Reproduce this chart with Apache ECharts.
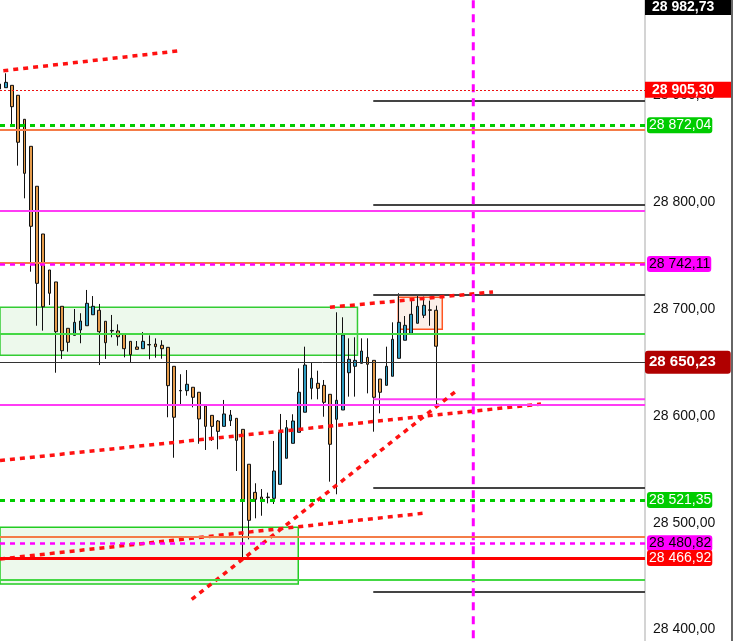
<!DOCTYPE html>
<html><head><meta charset="utf-8">
<script src="https://cdn.jsdelivr.net/npm/echarts@6/dist/echarts.min.js"></script>
<style>html,body{margin:0;padding:0;background:#fff;overflow:hidden}#c{width:733px;height:641px}</style>
</head><body><div id="c"></div>
<script>
// ---- candle values (price) ----
const opens  = [28906.1,28907.3,28909.5,28900.2,28877.7,28852.4,28815.0,28770.3,28736.6,28725.4,
                28702.6,28682.0,28675.4,28680.4,28684.4,28694.7,28698.9,28688.6,28680.0,28679.5,
                28676.4,28669.8,28664.5,28662.9,28666.8,28667.3,28666.1,28664.2,28646.4,28623.8,
                28623.6,28626.8,28622.1,28609.2,28600.5,28595.2,28590.2,28595.5,28597.7,28587.4,
                28554.7,28528.4,28524.0,28524.0,28522.8,28535.9,28560.3,28574.3,28584.6,28603.4,
                28625.8,28630.5,28628.6,28620.2,28596.8,28605.5,28640.4,28646.4,28649.2,28654.8,
                28652.0,28634.5,28628.6,28637.1,28653.9,28670.8,28677.3,28686.7,28694.2,28699.3,
                28698.9];
const closes = [28910.7,28912.3,28889.5,28856.2,28827.1,28777.5,28724.1,28702.2,28714.8,28678.8,
                28661.0,28668.9,28687.6,28688.8,28705.4,28702.6,28678.8,28668.5,28679.5,28674.1,
                28662.9,28657.3,28662.3,28669.8,28666.4,28664.8,28662.9,28628.3,28598.7,28623.4,
                28629.6,28617.4,28597.1,28590.2,28590.2,28585.5,28601.8,28600.8,28577.1,28520.9,
                28502.2,28521.9,28521.9,28523.5,28548.4,28584.9,28588.9,28595.2,28622.1,28647.6,
                28635.2,28625.8,28612.7,28573.4,28614.6,28675.7,28653.0,28652.0,28660.7,28648.3,
                28617.4,28622.1,28646.4,28671.7,28687.6,28684.8,28695.1,28702.6,28703.5,28698.9,
                28665.2];
const lows   = [28905.1,28907.3,28871.7,28834.3,28803.7,28735.0,28684.4,28679.8,28703.8,28640.4,
                28653.3,28660.1,28675.4,28668.0,28684.4,28694.7,28647.6,28653.3,28673.6,28665.7,
                28654.8,28650.2,28662.3,28662.9,28653.0,28654.5,28653.5,28598.7,28560.8,28611.1,
                28618.9,28608.0,28573.9,28568.1,28576.5,28568.7,28590.2,28590.5,28548.4,28466.6,
                28484.4,28504.1,28506.5,28518.1,28517.5,28535.9,28560.3,28574.3,28584.6,28603.4,
                28615.5,28615.5,28599.2,28538.4,28526.6,28605.5,28618.0,28618.0,28649.2,28621.1,
                28585.2,28602.4,28628.6,28637.1,28653.9,28670.8,28677.3,28686.7,28691.6,28684.4,
                28609.5];
const highs  = [28912.6,28920.8,28909.5,28900.4,28877.9,28852.4,28815.0,28770.3,28736.6,28725.4,
                28702.6,28682.0,28700.1,28696.1,28717.9,28712.2,28704.8,28688.6,28694.5,28685.7,
                28676.4,28669.8,28670.1,28678.5,28675.4,28672.6,28670.8,28664.2,28646.4,28639.0,
                28642.9,28626.8,28622.1,28609.2,28600.5,28596.1,28614.9,28605.5,28597.7,28587.4,
                28554.7,28536.9,28531.5,28528.1,28576.5,28601.8,28596.1,28601.5,28644.5,28664.8,
                28649.8,28642.3,28633.6,28620.2,28697.0,28692.3,28672.6,28673.6,28672.6,28672.6,
                28652.0,28634.5,28664.8,28687.6,28714.8,28693.5,28707.9,28713.8,28711.6,28707.9,
                28703.2];

// ---- price levels ----
const highPrice = 28982.73;
const redDotLevel = 28905.30;
const greenDashLevels = [28872.04, 28521.35];
const magentaDashLevels = [28742.11, 28480.82];
const lastPrice = 28650.23;
const redSolidLevel = 28466.92;
const orangeLevels = [28868.0, 28743.8, 28486.9];
const magentaLevels = [28792.1, 28610.5];
const greenLevels = [28677.0, 28446.6];
const shortLevels = [28894.8, 28797.5, 28713.2, 28532.5, 28435.1];
const shortMagentaLevel = 28615.5;
const shortStart = 59.9;
const verticalAt = 75.93;

// ---- zones [x-index, price] ----
const zone1 = [[0.08, 28701.7], [57.37, 28656.7]];
const zone2 = [[0.08, 28495.7], [47.88, 28442.6]];
const boxZone = [[63.91, 28711.0], [70.96, 28681.1]];

// ---- trend lines [x-index, price] ----
const trendTop = [[0.61, 28923.2], [28.61, 28941.7]];
const trendMid = [[0.08, 28558.1], [86.78, 28611.1]];
const trendUpper = [[52.96, 28701.7], [79.09, 28716.0]];
const trendLow = [[0.08, 28466.0], [67.87, 28508.8]];
const trendSteep = [[30.80, 28428.2], [73.0, 28622.4]];

const X_MIN = 0.08, X_MAX = 103.45;
const Y_MIN = 28300, Y_MAX = 29000;

function fmt(v){
  const s = Number(v).toFixed(2);
  const p = s.split('.');
  return p[0].replace(/\B(?=(\d{3})+(?!\d))/g, ' ') + ',' + p[1];
}

const BLUE = '#2e9cc2', ORANGE = '#e59b4a';
const FONT = 'Liberation Sans, Arial, sans-serif';

const candleData = opens.map((o, i) => [i, o, closes[i], lows[i], highs[i]]);

function squareTag(bg, size, pad, radius){
  return {show:true, position:'end', distance:0, formatter:p=>fmt(p.value),
    color:'#fff', fontWeight:'bold', fontSize:size, fontFamily:FONT,
    backgroundColor:bg, padding:pad, borderRadius:radius||0};
}
function roundTag(bg, fg){
  return {show:true, position:'end', distance:2, formatter:p=>fmt(p.value),
    color:fg, fontSize:14, fontFamily:FONT,
    backgroundColor:bg, padding:[1,1,1,2], borderRadius:3};
}
const noLabel = {show:false};

const mlData = [];
orangeLevels.forEach(v => mlData.push({yAxis:v, lineStyle:{color:'#f47c48', width:2, type:'solid'}, label:noLabel}));
magentaLevels.forEach(v => mlData.push({yAxis:v, lineStyle:{color:'#ff3cf5', width:2, type:'solid'}, label:noLabel}));
greenLevels.forEach(v => mlData.push({yAxis:v, lineStyle:{color:'#44d844', width:2, type:'solid'}, label:noLabel}));
mlData.push({yAxis:lastPrice, lineStyle:{color:'#333', width:1, type:'solid'}, label:squareTag('#b00000', 15, [4,15,4,4], 3)});
greenDashLevels.forEach(v => mlData.push({yAxis:v, lineStyle:{color:'#00cc00', width:3, type:[5,5]}, label:roundTag('#00cc00', '#fff')}));
magentaDashLevels.forEach(v => mlData.push({yAxis:v, lineStyle:{color:'#ff00ff', width:2.5, type:[5,5]}, label:roundTag('#ff00ff', '#000')}));
mlData.push({yAxis:redDotLevel, lineStyle:{color:'#ee1111', width:1, type:[2,2]}, label:squareTag('#ff0000', 14, [1,19,1,7])});
mlData.push({yAxis:redSolidLevel, lineStyle:{color:'#ff0000', width:3, type:'solid'}, label:roundTag('#ff0000', '#fff')});
mlData.push({yAxis:highPrice, lineStyle:{color:'rgba(0,0,0,0)', width:1, type:'solid'}, label:squareTag('#000000', 14, [1,19,1,7])});

function seg(data, color, width, type){
  return {type:'line', data:data, xAxisIndex:0, yAxisIndex:0, showSymbol:false, symbol:'none',
    silent:true, z:4, animation:false, clip:true,
    lineStyle:{color:color, width:width, type:type}};
}

const series = [
  {type:'line', data:[], z:1, silent:true,
   markArea:{silent:true, data:[
     [{coord:zone1[0], itemStyle:{color:'#edf9ec', borderColor:'#33cc33', borderWidth:1.5}}, {coord:zone1[1]}],
     [{coord:zone2[0], itemStyle:{color:'#edf9ec', borderColor:'#22cc22', borderWidth:1.5}}, {coord:zone2[1]}],
     [{coord:boxZone[0], itemStyle:{color:'#fcefe9', borderColor:'#ff5522', borderWidth:1.5}}, {coord:boxZone[1]}]
   ]}},
  {type:'candlestick', data:candleData, barWidth:3.2, z:2, silent:true,
   itemStyle:{color:BLUE, color0:ORANGE, borderColor:'#111', borderColor0:'#111', borderWidth:1}},
  {type:'line', data:[], z:3, silent:true,
   markLine:{silent:true, symbol:['none','none'], animation:false, data:mlData}}
];
shortLevels.forEach(v => series.push(seg([[shortStart, v], [X_MAX, v]], '#444', 2, 'solid')));
series.push(seg([[shortStart, shortMagentaLevel], [X_MAX, shortMagentaLevel]], '#ff3cf5', 2, 'solid'));
[trendTop, trendMid, trendUpper, trendLow, trendSteep].forEach(t => series.push(seg(t, '#ff1111', 3.5, [5,5])));
series.push(seg([[verticalAt, Y_MIN], [verticalAt, Y_MAX]], '#ff00ff', 3, [8,6]));

// grid placement so that the visible range matches the picture
const PX = 1.068;            // pixels per price unit
const topPx = -(Y_MAX - 28989.4) * PX;
const hPx = (Y_MAX - Y_MIN) * PX;

const chart = echarts.init(document.getElementById('c'), null, {renderer:'canvas'});
chart.setOption({
  animation:false,
  backgroundColor:'#ffffff',
  textStyle:{fontFamily:FONT},
  grid:{left:0, top:topPx, width:645, height:hPx, containLabel:false, outerBoundsMode:'none'},
  xAxis:{type:'value', min:X_MIN, max:X_MAX, show:false},
  yAxis:{type:'value', position:'right', min:Y_MIN, max:Y_MAX, interval:100,
    axisLine:{show:true, lineStyle:{color:'#d4d4d4', width:2}},
    axisTick:{show:false}, splitLine:{show:false},
    axisLabel:{margin:8, fontSize:14, color:'#111', fontFamily:FONT, formatter:v=>fmt(v)}},
  graphic:[{type:'rect', shape:{x:731, y:0, width:2, height:641}, style:{fill:'#666'}, silent:true, z:10}],
  series:series
});
</script>
</body></html>
